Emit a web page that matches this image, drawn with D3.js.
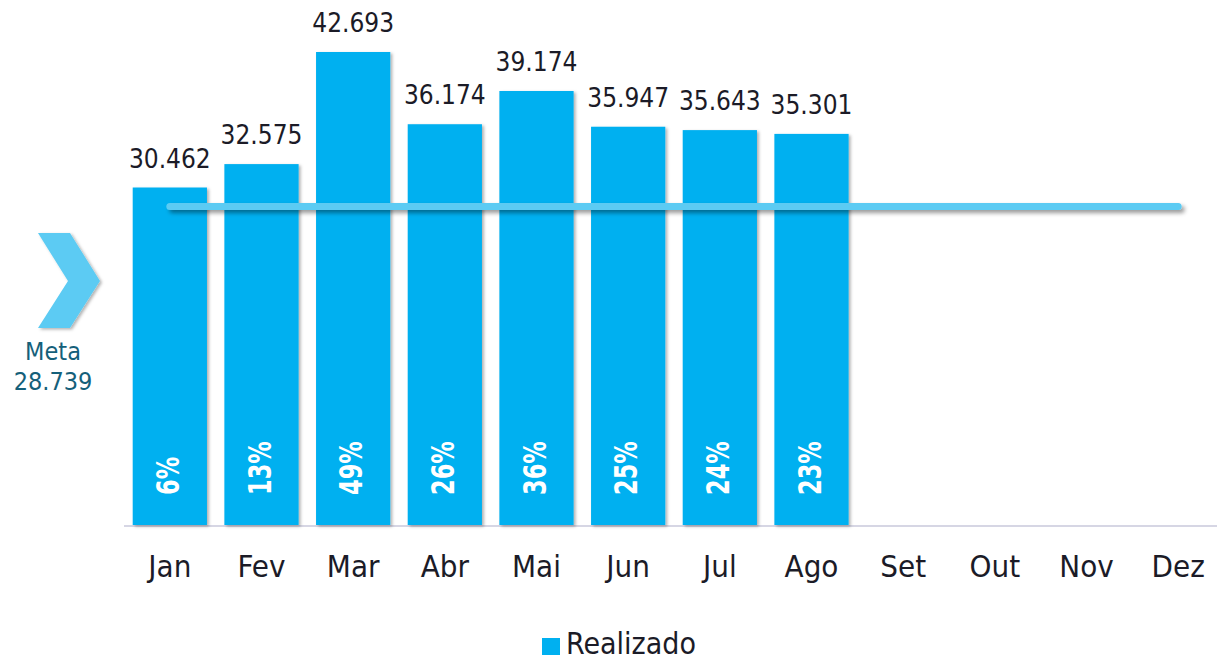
<!DOCTYPE html>
<html>
<head>
<meta charset="utf-8">
<script src="https://cdn.jsdelivr.net/npm/d3@7"></script>
<style>
  body { margin: 0; background: #fff; }
  text { font-family: "DejaVu Sans Condensed", "DejaVu Sans", sans-serif; }
</style>
</head>
<body>
<div id="chart"></div>
<script>
var width = 1217,
    height = 661;

// data
var months = ["Jan", "Fev", "Mar", "Abr", "Mai", "Jun", "Jul", "Ago", "Set", "Out", "Nov", "Dez"];
var realizado = [30.462, 32.575, 42.693, 36.174, 39.174, 35.947, 35.643, 35.301, null, null, null, null];
var percent = ["6%", "13%", "49%", "26%", "36%", "25%", "24%", "23%", null, null, null, null];
var meta = 28.739;

var fmt = function(v) { return v.toFixed(3); };

var svg = d3.select("#chart").append("svg")
    .attr("width", width)
    .attr("height", height);

var defs = svg.append("defs");
var sh = defs.append("filter").attr("id", "shadow")
    .attr("x", "-10%").attr("y", "-10%").attr("width", "130%").attr("height", "130%");
sh.append("feDropShadow")
    .attr("dx", 2).attr("dy", 1.5).attr("stdDeviation", 1.5)
    .attr("flood-color", "#000").attr("flood-opacity", 0.3);

// line has a flat bbox, so use user space for its shadow region
var sh2 = defs.append("filter").attr("id", "shadow2")
    .attr("filterUnits", "userSpaceOnUse")
    .attr("x", 0).attr("y", 0).attr("width", width).attr("height", height);
sh2.append("feDropShadow")
    .attr("dx", 3).attr("dy", 3).attr("stdDeviation", 2)
    .attr("flood-color", "#000").attr("flood-opacity", 0.4);

var x = d3.scaleBand()
    .domain(months)
    .range([124, 1224])
    .paddingInner(0.19)
    .paddingOuter(0.095);

var y = d3.scaleLinear()
    .domain([0, 42.693])
    .range([525, 52]);

// baseline
svg.append("line")
    .attr("x1", 124).attr("x2", width)
    .attr("y1", y(0) + 1).attr("y2", y(0) + 1)
    .attr("stroke", "#d6d6e4")
    .attr("stroke-width", 2);

var data = months.map(function(m, i) {
  return { m: m, v: realizado[i], p: percent[i] };
}).filter(function(d) { return d.v != null; });

// bars
svg.append("g").selectAll("rect")
    .data(data)
    .enter().append("rect")
    .attr("x", function(d) { return x(d.m); })
    .attr("y", function(d) { return y(d.v); })
    .attr("width", x.bandwidth())
    .attr("height", function(d) { return y(0) - y(d.v); })
    .attr("fill", "#00b0f0")
    .attr("filter", "url(#shadow)");

// value labels
svg.append("g").selectAll("text")
    .data(data)
    .enter().append("text")
    .attr("x", function(d) { return x(d.m) + x.bandwidth() / 2; })
    .attr("y", function(d) { return y(d.v) - 20; })
    .attr("text-anchor", "middle")
    .attr("font-size", 26)
    .attr("fill", "#1b1b27")
    .text(function(d) { return fmt(d.v); });

// percent labels inside bars
svg.append("g").selectAll("text")
    .data(data)
    .enter().append("text")
    .attr("transform", function(d) {
      return "translate(" + (x(d.m) + x.bandwidth() / 2 + 9) + "," + 495 + ") rotate(-90) scale(1,1.3)";
    })
    .attr("text-anchor", "start")
    .attr("font-size", 25)
    .attr("font-weight", "bold")
    .attr("fill", "#fff")
    .text(function(d) { return d.p; });

// meta line
svg.append("line")
    .attr("x1", x("Jan") + x.bandwidth() / 2)
    .attr("x2", x("Dez") + x.bandwidth() / 2)
    .attr("y1", y(meta)).attr("y2", y(meta))
    .attr("stroke", "#5bcbf3")
    .attr("stroke-width", 7)
    .attr("stroke-linecap", "round")
    .attr("filter", "url(#shadow2)");

// month axis labels
svg.append("g").selectAll("text")
    .data(months)
    .enter().append("text")
    .attr("x", function(d) { return x(d) + x.bandwidth() / 2; })
    .attr("y", 577)
    .attr("text-anchor", "middle")
    .attr("font-size", 31)
    .attr("fill", "#1b1b27")
    .text(String);

// chevron + meta label
svg.append("path")
    .attr("d", "M38,233 L70,233 L100,281 L70,328 L38,328 L68,281 Z")
    .attr("fill", "#5bcbf3")
    .attr("filter", "url(#shadow)");

svg.append("text")
    .attr("x", 53).attr("y", 360)
    .attr("text-anchor", "middle")
    .attr("font-size", 25)
    .attr("fill", "#15607a")
    .text("Meta");

svg.append("text")
    .attr("x", 53).attr("y", 390)
    .attr("text-anchor", "middle")
    .attr("font-size", 25)
    .attr("fill", "#15607a")
    .text(fmt(meta));

// legend
var legend = svg.append("g");
legend.append("rect")
    .attr("x", 542).attr("y", 638)
    .attr("width", 18).attr("height", 17)
    .attr("fill", "#00b0f0");
legend.append("text")
    .attr("x", 566).attr("y", 654)
    .attr("font-size", 30)
    .attr("fill", "#1b1b27")
    .text("Realizado");
</script>
</body>
</html>
